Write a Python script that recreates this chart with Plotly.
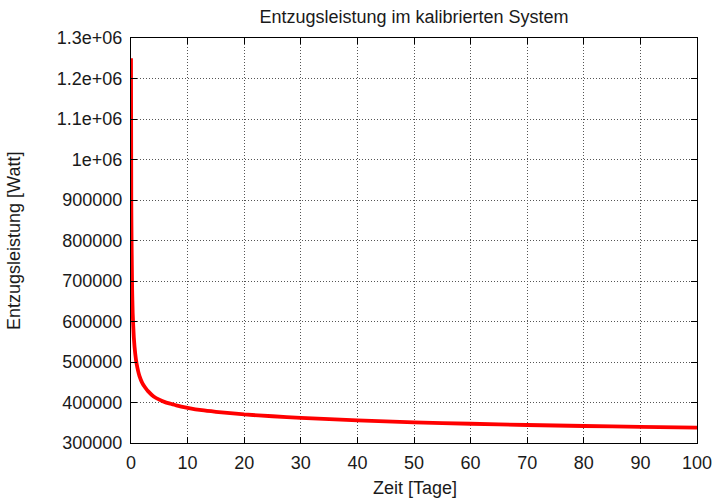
import plotly.graph_objects as go

# Data
zeit_tage = [0, 0.05, 0.1, 0.2, 0.3, 0.5, 0.75, 1, 1.5, 2, 2.5, 3, 4, 5, 6, 7, 8,
             10, 12.5, 15, 20, 25, 30, 40, 50, 60, 70, 80, 90, 100]
leistung_watt = [1250000, 900000, 800000, 680000, 620000, 560000, 520000, 495000,
                 465000, 448000, 437000, 428000, 415000, 407000, 401000, 397000,
                 393000, 387000, 381000, 377000, 370500, 366000, 362000, 356000,
                 351000, 347500, 344500, 342000, 340000, 338000]

x_ticks = list(range(0, 101, 10))
y_ticks = [300000, 400000, 500000, 600000, 700000, 800000, 900000,
           1000000, 1100000, 1200000, 1300000]
y_tick_labels = ["300000", "400000", "500000", "600000", "700000", "800000",
                 "900000", "1e+06", "1.1e+06", "1.2e+06", "1.3e+06"]

FONT = "Liberation Sans, Arial, Helvetica, sans-serif"
TXT = "#1a1a1a"
W, H = 716, 498

fig = go.Figure()
fig.add_trace(go.Scatter(
    x=zeit_tage, y=leistung_watt, mode="lines",
    line=dict(color="#ff0000", width=3.8, shape="spline", smoothing=0.4),
    showlegend=False,
))

axis_common = dict(
    showline=True, linecolor="black", linewidth=1, mirror="ticks",
    ticks="inside", ticklen=6, tickcolor="black",
    showgrid=True, gridcolor="#555555", griddash="1px,2px", gridwidth=1,
    zeroline=False, automargin=False,
    tickfont=dict(family=FONT, size=18, color=TXT),
)

fig.update_layout(
    width=W, height=H,
    margin=dict(l=131, r=19, t=38, b=55),
    paper_bgcolor="white", plot_bgcolor="white",
    title=dict(text="Entzugsleistung im kalibrierten System",
               xref="paper", x=0.5, xanchor="center",
               yref="container", y=1 - 17 / H, yanchor="middle",
               font=dict(family=FONT, size=18, color=TXT)),
    xaxis=dict(range=[0, 100], tickvals=x_ticks, ticklabelstandoff=3,
               **axis_common),
    yaxis=dict(range=[300000, 1300000], tickvals=y_ticks, ticktext=y_tick_labels,
               ticklabelstandoff=4, **axis_common),
    annotations=[
        dict(text="Zeit [Tage]", xref="paper", yref="paper",
             x=(415 - 131) / (697 - 131), y=-(488 - 443) / (443 - 38),
             xanchor="center", yanchor="middle", showarrow=False,
             font=dict(family=FONT, size=18, color=TXT)),
        dict(text="Entzugsleistung [Watt]", xref="paper", yref="paper",
             x=-(131 - 14) / (697 - 131), y=(443 - 241) / (443 - 38),
             xanchor="center", yanchor="middle", textangle=-90, showarrow=False,
             font=dict(family=FONT, size=18, color=TXT)),
    ],
)

fig.write_html("out.html", config={"displayModeBar": False},
               post_script="document.body.style.margin='0';document.body.style.padding='0';")
